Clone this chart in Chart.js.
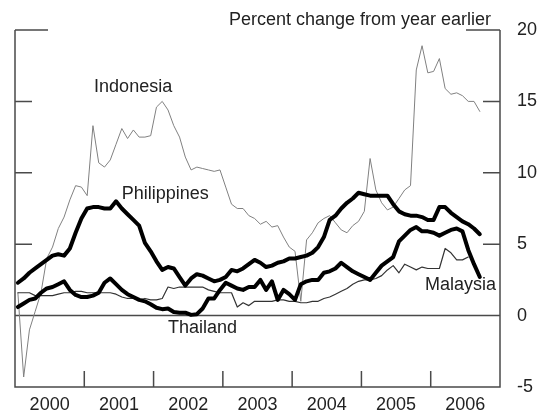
<!DOCTYPE html>
<html>
<head>
<meta charset="utf-8">
<script src="https://cdn.jsdelivr.net/npm/chart.js@4/dist/chart.umd.min.js"></script>
<style>
  html, body { margin: 0; padding: 0; background: #fff; }
  #chart { display: block; }
</style>
</head>
<body>
<canvas id="chart" width="547" height="419"></canvas>
<script>
// monthly, Jan 2000 .. Sep 2006, percent change from year earlier
const years = ['2000', '2001', '2002', '2003', '2004', '2005', '2006'];

const indonesia = [
  1.6, -4.3, -1.0, 0.3, 1.6, 4.0, 4.8, 6.1, 6.9, 8.1,
  9.1, 9.0, 8.4, 13.3, 10.7, 10.4, 10.9, 12.0, 13.1, 12.4,
  13.0, 12.5, 12.5, 12.6, 14.6, 15.0, 14.4, 13.3, 12.5, 11.1,
  10.2, 10.4, 10.3, 10.2, 10.1, 10.2, 9.0, 7.8, 7.5, 7.5,
  7.0, 6.8, 6.4, 6.6, 6.2, 6.3, 5.5, 4.8, 4.5, 1.0,
  5.3, 5.8, 6.5, 6.8, 7.0, 6.5, 6.0, 5.8, 6.3, 6.6,
  7.3, 11.0, 8.8, 7.9, 7.4, 7.6, 8.2, 8.8, 9.1, 17.2,
  18.9, 17.0, 17.1, 18.0, 15.9, 15.5, 15.6, 15.4, 15.0, 15.0, 14.3
];

const philippines = [
  2.3, 2.6, 3.0, 3.3, 3.6, 3.9, 4.2, 4.3, 4.2, 4.7,
  5.8, 6.8, 7.5, 7.6, 7.6, 7.5, 7.5, 8.0, 7.5, 7.1,
  6.7, 6.3, 5.1, 4.5, 3.8, 3.2, 3.4, 3.3, 2.7, 2.1,
  2.6, 2.9, 2.8, 2.6, 2.4, 2.5, 2.7, 3.2, 3.1, 3.3,
  3.6, 3.9, 3.7, 3.4, 3.5, 3.7, 3.8, 4.0, 4.0, 4.1,
  4.2, 4.4, 4.8, 5.5, 6.7, 7.0, 7.5, 7.9, 8.2, 8.6,
  8.5, 8.4, 8.4, 8.4, 8.4, 7.8, 7.3, 7.1, 7.0, 7.0,
  6.9, 6.7, 6.7, 7.6, 7.6, 7.2, 6.9, 6.6, 6.4, 6.1, 5.7
];

const thailand = [
  0.6, 0.85, 1.1, 1.2, 1.6, 1.9, 2.0, 2.2, 2.4, 1.8,
  1.45, 1.3, 1.3, 1.4, 1.6, 2.3, 2.6, 2.2, 1.8, 1.5,
  1.3, 1.1, 1.0, 0.8, 0.55, 0.45, 0.5, 0.25, 0.2, 0.2,
  0.05, 0.1, 0.5, 1.2, 1.2, 1.8, 2.3, 2.1, 1.9, 1.8,
  2.0, 2.0, 2.5, 1.8, 2.4, 1.1, 1.8, 1.5, 1.1, 2.2,
  2.4, 2.5, 2.5, 3.0, 3.1, 3.3, 3.7, 3.4, 3.1, 2.9,
  2.7, 2.5, 3.0, 3.5, 3.8, 4.1, 5.2, 5.6, 6.0, 6.2,
  5.9, 5.9, 5.8, 5.6, 5.8, 6.0, 6.1, 5.9, 4.6, 3.6, 2.7
];

const malaysia = [
  1.6, 1.6, 1.6, 1.4, 1.4, 1.4, 1.4, 1.5, 1.6, 1.6,
  1.7, 1.7, 1.6, 1.6, 1.6, 1.6, 1.6, 1.5, 1.3, 1.2,
  1.2, 1.1, 1.2, 1.1, 1.1, 1.2, 2.0, 1.9, 2.0, 2.0,
  2.0, 2.0, 2.0, 1.8, 1.7, 1.6, 1.6, 1.6, 0.6, 0.9,
  0.7, 1.0, 1.0, 1.0, 1.0, 1.1, 1.1, 1.0, 1.0, 0.9,
  0.9, 1.0, 1.0, 1.2, 1.3, 1.5, 1.7, 1.9, 2.2, 2.4,
  2.5, 2.5, 2.6, 2.8, 3.2, 3.5, 3.0, 3.6, 3.4, 3.2,
  3.4, 3.3, 3.3, 3.3, 4.7, 4.4, 3.9, 3.9, 4.1, null, null
];

const yTicks = [-5, 0, 5, 10, 15, 20];

// series labels: [text, month position, value]
const seriesLabels = [
  ['Indonesia', 13.7, 16.0],
  ['Philippines', 18.5, 8.5],
  ['Thailand', 26.5, -0.87],
  ['Malaysia', 71.0, 2.14],
];

const FONT = '"Liberation Sans", Arial, sans-serif';
const frameColor = '#4a4a4a';

// each month sits in the middle of its slot
const toPoints = (arr) => arr.map((v, i) => ({ x: i + 0.5, y: v }));

const framePlugin = {
  id: 'frame',
  beforeDatasetsDraw(chart) {
    const { ctx, chartArea: a, scales } = chart;
    const x = scales.x, y = scales.y;
    ctx.save();
    ctx.strokeStyle = frameColor;
    ctx.lineWidth = 1.5;
    ctx.beginPath();
    // left, bottom, right edges
    ctx.moveTo(a.left, a.top);
    ctx.lineTo(a.left, a.bottom);
    ctx.lineTo(a.right, a.bottom);
    ctx.lineTo(a.right, a.top);
    // top edge only partly drawn
    ctx.moveTo(a.right, a.top);
    ctx.lineTo(a.right - 34, a.top);
    ctx.moveTo(a.left, a.top);
    ctx.lineTo(a.left + 33, a.top);
    // value ticks on both sides
    [5, 10, 15].forEach((v) => {
      const py = y.getPixelForValue(v);
      ctx.moveTo(a.left, py);
      ctx.lineTo(a.left + 17, py);
      ctx.moveTo(a.right, py);
      ctx.lineTo(a.right - 17, py);
    });
    // year separators
    for (let k = 1; k < years.length; k++) {
      const px = x.getPixelForValue(k * 12);
      ctx.moveTo(px, a.bottom);
      ctx.lineTo(px, a.bottom - 16);
    }
    // zero line
    const zy = y.getPixelForValue(0);
    ctx.moveTo(a.left, zy);
    ctx.lineTo(a.right, zy);
    ctx.stroke();
    ctx.restore();
  },
  afterDraw(chart) {
    const { ctx, chartArea: a, scales } = chart;
    ctx.save();
    ctx.fillStyle = '#222';
    ctx.font = '18px ' + FONT;
    ctx.textBaseline = 'middle';
    ctx.textAlign = 'left';
    seriesLabels.forEach(([t, m, v]) => {
      ctx.fillText(t, scales.x.getPixelForValue(m), scales.y.getPixelForValue(v));
    });
    ctx.textAlign = 'right';
    ctx.textBaseline = 'alphabetic';
    ctx.fillText('Percent change from year earlier', a.right - 9, 25);
    ctx.restore();
  },
};

new Chart(document.getElementById('chart'), {
  type: 'line',
  data: {
    datasets: [
      {
        label: 'Philippines',
        data: toPoints(philippines),
        borderColor: '#000',
        borderWidth: 4,
      },
      {
        label: 'Thailand',
        data: toPoints(thailand),
        borderColor: '#000',
        borderWidth: 4,
      },
      {
        label: 'Malaysia',
        data: toPoints(malaysia),
        borderColor: '#333',
        borderWidth: 1.2,
      },
      {
        label: 'Indonesia',
        data: toPoints(indonesia),
        borderColor: '#808080',
        borderWidth: 1,
      },
    ],
  },
  options: {
    responsive: false,
    animation: false,
    layout: { padding: { left: 15, top: 30, right: 0, bottom: 0 } },
    elements: {
      point: { radius: 0 },
      line: { tension: 0, borderJoinStyle: 'round', borderCapStyle: 'round' },
    },
    plugins: {
      legend: { display: false },
      tooltip: { enabled: false },
    },
    scales: {
      x: {
        type: 'linear',
        min: 0,
        max: 84,
        grid: { display: false, drawTicks: false },
        border: { display: false },
        afterBuildTicks(scale) {
          scale.ticks = years.map((_, k) => ({ value: k * 12 + 6 }));
        },
        afterFit(scale) {
          scale.height = 32;
        },
        ticks: {
          autoSkip: false,
          maxRotation: 0,
          padding: 7,
          color: '#222',
          font: { family: FONT, size: 18 },
          callback: (v) => years[Math.round((v - 6) / 12)],
        },
      },
      y: {
        position: 'right',
        min: -5,
        max: 20,
        grid: { display: false, drawTicks: false },
        border: { display: false },
        afterBuildTicks(scale) {
          scale.ticks = yTicks.map((v) => ({ value: v }));
        },
        afterFit(scale) {
          scale.width = 47;
        },
        ticks: {
          padding: 17,
          color: '#222',
          font: { family: FONT, size: 18 },
        },
      },
    },
  },
  plugins: [framePlugin],
});
</script>
</body>
</html>
